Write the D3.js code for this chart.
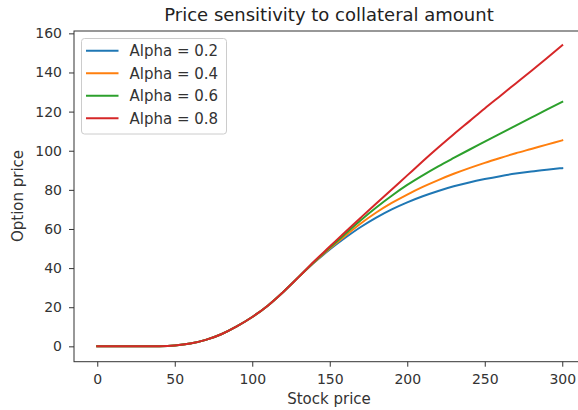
<!DOCTYPE html>
<html>
<head>
<meta charset="utf-8">
<script src="https://cdn.jsdelivr.net/npm/d3@7"></script>
<style>
  body { margin: 0; background: #fff; }
  svg { display: block; font-family: "DejaVu Sans", sans-serif; }
</style>
</head>
<body>
<svg id="chart" width="578" height="410"></svg>
<script>
const stockPrice = [0,10,20,30,40,50,60,70,80,90,100,110,120,130,140,150,160,170,180,190,200,210,220,230,240,250,260,270,280,290,300];
const alpha02 = [0,0,0,0,0.05,0.4,1.4,3.3,6.2,10.2,15.0,20.8,27.8,35.5,42.8,49.5,55.5,61.0,65.8,70.0,73.6,76.7,79.4,81.8,83.8,85.5,87.0,88.3,89.4,90.3,91.1];
const alpha04 = [0,0,0,0,0.05,0.4,1.4,3.3,6.2,10.2,15.0,20.8,27.8,35.5,43.0,50.0,56.5,62.8,68.4,73.3,77.6,81.5,85.0,88.2,91.1,93.8,96.3,98.7,100.9,103.1,105.3];
const alpha06 = [0,0,0,0,0.05,0.4,1.4,3.3,6.2,10.2,15.0,20.8,27.8,35.5,43.2,50.5,57.5,64.5,71.0,77.0,82.5,87.4,92.0,96.3,100.5,104.6,108.7,112.8,116.9,121.0,125.0];
const alpha08 = [0,0,0,0,0.05,0.4,1.4,3.3,6.2,10.2,15.0,20.8,27.8,35.5,43.5,51.0,58.5,65.8,73.0,80.2,87.4,94.6,101.6,108.4,115.0,121.6,128.0,134.4,140.8,147.3,153.9];
const seriesNames = ["Alpha = 0.2","Alpha = 0.4","Alpha = 0.6","Alpha = 0.8"];
const colors = ["#1f77b4","#ff7f0e","#2ca02c","#d62728"];
const xTicks = [0,50,100,150,200,250,300];
const yTicks = [0,20,40,60,80,100,120,140,160];

const seriesValues = [alpha02, alpha04, alpha06, alpha08];

const svg = d3.select("#chart");
const mLeft = 74, mRight = 585.5, mTop = 31, mBottom = 361.7;
const x = d3.scaleLinear().domain([-15, 315]).range([mLeft, mRight]);
const y = d3.scaleLinear().domain([-7.85, 161.2]).range([mBottom, mTop]);

const axisColor = "#333";
const gx = svg.append("g").attr("transform", `translate(0,${mBottom})`)
  .call(d3.axisBottom(x).tickValues(xTicks).tickSize(5).tickPadding(7).tickFormat(d3.format("d")));
const gy = svg.append("g").attr("transform", `translate(${mLeft},0)`)
  .call(d3.axisLeft(y).tickValues(yTicks).tickSize(5).tickPadding(7).tickFormat(d3.format("d")));
[gx, gy].forEach(g => {
  g.select(".domain").remove();
  g.selectAll("line").attr("stroke", axisColor);
  g.selectAll("text").attr("fill", "#333").attr("font-size", 14).attr("font-family", "DejaVu Sans, sans-serif");
});

const line = d3.line().x((d, i) => x(stockPrice[i])).y(d => y(d)).curve(d3.curveMonotoneX);
seriesValues.forEach((vals, k) => {
  svg.append("path").datum(vals)
    .attr("fill", "none").attr("stroke", colors[k]).attr("stroke-width", 2)
    .attr("stroke-linecap", "square").attr("d", line);
});

svg.append("rect").attr("x", mLeft).attr("y", mTop).attr("width", mRight - mLeft).attr("height", mBottom - mTop)
  .attr("fill", "none").attr("stroke", axisColor).attr("stroke-width", 1);

svg.append("text").attr("x", 329).attr("y", 20.5).attr("text-anchor", "middle")
  .attr("font-size", 18).attr("fill", "#222").text("Price sensitivity to collateral amount");
svg.append("text").attr("x", 329).attr("y", 403.5).attr("text-anchor", "middle")
  .attr("font-size", 15).attr("fill", "#333").text("Stock price");
svg.append("text").attr("transform", `translate(22.5,196) rotate(-90)`).attr("text-anchor", "middle")
  .attr("font-size", 15).attr("fill", "#333").text("Option price");

const lg = svg.append("g");
lg.append("rect").attr("x", 81.5).attr("y", 38.5).attr("width", 145).attr("height", 95.5).attr("rx", 3)
  .attr("fill", "#fff").attr("fill-opacity", 0.8).attr("stroke", "#ccc").attr("stroke-width", 1);
seriesNames.forEach((name, k) => {
  const yy = 50.7 + k * 22.55;
  lg.append("line").attr("x1", 86).attr("x2", 118.5).attr("y1", yy).attr("y2", yy)
    .attr("stroke", colors[k]).attr("stroke-width", 2);
  lg.append("text").attr("x", 129.5).attr("y", yy + 5.3).attr("font-size", 15).attr("fill", "#333").text(name);
});
</script>
</body>
</html>
